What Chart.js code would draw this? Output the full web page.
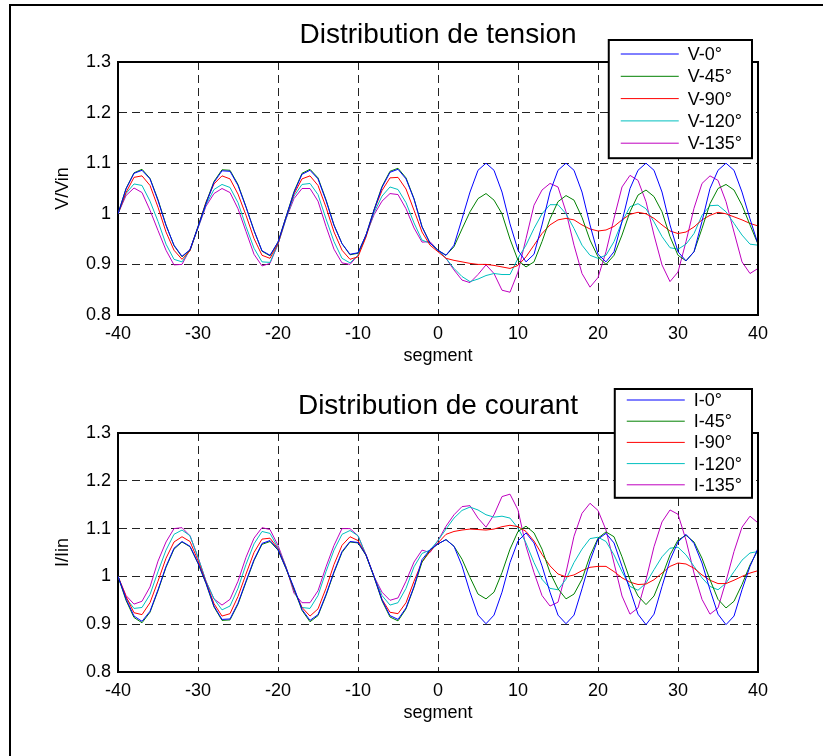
<!DOCTYPE html>
<html>
<head>
<meta charset="utf-8">
<title>Distribution de tension / courant</title>
<script src="https://cdn.jsdelivr.net/npm/chart.js@4.4.1/dist/chart.umd.min.js"></script>
<style>
  body { margin: 0; background: #fff; }
  #page { position: relative; width: 823px; height: 756px; overflow: hidden; }
  #frame { position: absolute; left: 9px; top: 4px; width: 840px; height: 800px;
           border-left: 2px solid #000; border-top: 2px solid #000; }
  canvas { position: absolute; left: 0; }
</style>
</head>
<body>
<div id="page">
  <div id="frame"></div>
  <canvas id="tension" width="823" height="380" style="top:0"></canvas>
  <canvas id="courant" width="823" height="376" style="top:380px"></canvas>
</div>
<script>
// segment index along the line
const SEGMENTS = [
  -40, -39, -38, -37, -36, -35, -34, -33, -32, -31,
  -30, -29, -28, -27, -26, -25, -24, -23, -22, -21,
  -20, -19, -18, -17, -16, -15, -14, -13, -12, -11,
  -10, -9, -8, -7, -6, -5, -4, -3, -2, -1,
  0, 1, 2, 3, 4, 5, 6, 7, 8, 9,
  10, 11, 12, 13, 14, 15, 16, 17, 18, 19,
  20, 21, 22, 23, 24, 25, 26, 27, 28, 29,
  30, 31, 32, 33, 34, 35, 36, 37, 38, 39, 40
];

// V/Vin
const V_0 = [
  1.000, 1.049, 1.080, 1.086, 1.069, 1.026, 0.977, 0.938, 0.916, 0.929,
  0.974, 1.020, 1.062, 1.085, 1.084, 1.056, 1.013, 0.967, 0.927, 0.918,
  0.944, 0.993, 1.042, 1.078, 1.086, 1.069, 1.026, 0.977, 0.941, 0.920,
  0.923, 0.958, 1.007, 1.052, 1.082, 1.088, 1.069, 1.029, 0.974, 0.942,
  0.928, 0.918, 0.938, 0.990, 1.043, 1.086, 1.100, 1.086, 1.043, 0.980,
  0.928, 0.905, 0.920, 0.978, 1.043, 1.086, 1.100, 1.086, 1.043, 0.978,
  0.920, 0.905, 0.925, 0.985, 1.050, 1.086, 1.100, 1.086, 1.043, 0.978,
  0.925, 0.907, 0.925, 0.985, 1.050, 1.086, 1.100, 1.086, 1.043, 0.990, 0.940
];
const V_45 = [
  1.000, 1.050, 1.081, 1.088, 1.070, 1.028, 0.978, 0.937, 0.915, 0.928,
  0.975, 1.022, 1.064, 1.087, 1.086, 1.058, 1.014, 0.967, 0.926, 0.917,
  0.944, 0.994, 1.044, 1.080, 1.088, 1.071, 1.028, 0.978, 0.941, 0.919,
  0.922, 0.958, 1.008, 1.054, 1.084, 1.090, 1.071, 1.030, 0.975, 0.942,
  0.928, 0.918, 0.935, 0.970, 1.004, 1.030, 1.040, 1.027, 1.000, 0.950,
  0.908, 0.895, 0.905, 0.945, 0.990, 1.024, 1.036, 1.027, 0.993, 0.948,
  0.915, 0.900, 0.918, 0.958, 1.004, 1.037, 1.047, 1.034, 1.004, 0.955,
  0.918, 0.907, 0.925, 0.971, 1.020, 1.050, 1.058, 1.047, 1.017, 0.978, 0.940
];
const V_90 = [
  1.000, 1.042, 1.072, 1.075, 1.056, 1.013, 0.964, 0.928, 0.910, 0.927,
  0.974, 1.023, 1.059, 1.075, 1.069, 1.039, 0.997, 0.951, 0.918, 0.912,
  0.941, 0.993, 1.039, 1.069, 1.075, 1.056, 1.013, 0.964, 0.928, 0.910,
  0.915, 0.954, 1.007, 1.046, 1.071, 1.072, 1.049, 1.007, 0.964, 0.938,
  0.925, 0.912, 0.908, 0.905, 0.902, 0.900, 0.900, 0.898, 0.895, 0.892,
  0.898, 0.915, 0.938, 0.961, 0.978, 0.988, 0.991, 0.988, 0.978, 0.970,
  0.966, 0.968, 0.975, 0.988, 0.999, 1.003, 1.000, 0.991, 0.978, 0.966,
  0.961, 0.964, 0.974, 0.988, 0.997, 1.003, 1.000, 0.994, 0.988, 0.981, 0.976
];
const V_120 = [
  1.000, 1.040, 1.059, 1.056, 1.025, 0.985, 0.940, 0.910, 0.905, 0.928,
  0.972, 1.018, 1.048, 1.058, 1.052, 1.022, 0.975, 0.932, 0.905, 0.904,
  0.940, 0.990, 1.035, 1.058, 1.060, 1.038, 0.990, 0.945, 0.912, 0.903,
  0.918, 0.956, 1.002, 1.035, 1.053, 1.048, 1.022, 0.982, 0.948, 0.942,
  0.928, 0.912, 0.892, 0.876, 0.866, 0.871, 0.878, 0.882, 0.880, 0.880,
  0.912, 0.938, 0.971, 1.000, 1.018, 1.018, 1.000, 0.971, 0.938, 0.918,
  0.912, 0.918, 0.945, 0.984, 1.014, 1.020, 1.010, 0.984, 0.955, 0.933,
  0.930, 0.940, 0.961, 0.997, 1.016, 1.017, 1.004, 0.981, 0.958, 0.940, 0.938
];
const V_135 = [
  1.000, 1.036, 1.051, 1.042, 1.007, 0.967, 0.928, 0.899, 0.900, 0.930,
  0.972, 1.015, 1.040, 1.050, 1.042, 1.010, 0.965, 0.920, 0.897, 0.902,
  0.940, 0.990, 1.030, 1.050, 1.050, 1.025, 0.975, 0.930, 0.903, 0.900,
  0.918, 0.958, 0.998, 1.025, 1.040, 1.038, 1.010, 0.972, 0.944, 0.945,
  0.928, 0.912, 0.889, 0.869, 0.864, 0.880, 0.899, 0.882, 0.849, 0.845,
  0.885, 0.951, 1.017, 1.047, 1.060, 1.053, 1.004, 0.938, 0.882, 0.855,
  0.874, 0.925, 0.991, 1.053, 1.076, 1.066, 1.024, 0.958, 0.899, 0.866,
  0.885, 0.945, 1.011, 1.060, 1.075, 1.066, 1.024, 0.964, 0.905, 0.882, 0.892
];

// I/Iin
const I_0 = [
  1.000, 0.953, 0.917, 0.906, 0.927, 0.972, 1.021, 1.059, 1.073, 1.063,
  1.028, 0.986, 0.938, 0.910, 0.911, 0.944, 0.990, 1.035, 1.069, 1.075,
  1.056, 1.017, 0.976, 0.931, 0.908, 0.920, 0.962, 1.010, 1.052, 1.073,
  1.071, 1.045, 1.000, 0.951, 0.918, 0.910, 0.934, 0.979, 1.035, 1.056,
  1.068, 1.077, 1.063, 1.022, 0.967, 0.919, 0.901, 0.919, 0.967, 1.029,
  1.074, 1.091, 1.070, 1.022, 0.967, 0.919, 0.901, 0.919, 0.974, 1.032,
  1.078, 1.090, 1.070, 1.021, 0.972, 0.921, 0.899, 0.921, 0.979, 1.034,
  1.072, 1.088, 1.069, 1.028, 0.972, 0.921, 0.899, 0.917, 0.972, 1.021, 1.059
];
const I_45 = [
  1.000, 0.950, 0.914, 0.903, 0.925, 0.970, 1.019, 1.057, 1.072, 1.062,
  1.027, 0.985, 0.936, 0.908, 0.909, 0.942, 0.988, 1.033, 1.067, 1.073,
  1.055, 1.016, 0.974, 0.929, 0.905, 0.918, 0.960, 1.008, 1.050, 1.072,
  1.070, 1.044, 0.999, 0.949, 0.915, 0.907, 0.932, 0.977, 1.030, 1.055,
  1.068, 1.077, 1.063, 1.036, 0.998, 0.963, 0.953, 0.967, 1.008, 1.057,
  1.094, 1.105, 1.091, 1.057, 1.008, 0.974, 0.953, 0.963, 0.994, 1.043,
  1.080, 1.093, 1.083, 1.041, 0.993, 0.959, 0.941, 0.959, 1.000, 1.045,
  1.076, 1.086, 1.072, 1.038, 0.993, 0.952, 0.934, 0.948, 0.983, 1.024, 1.055
];
const I_90 = [
  1.000, 0.958, 0.924, 0.920, 0.945, 0.990, 1.038, 1.072, 1.083, 1.073,
  1.033, 0.988, 0.943, 0.917, 0.922, 0.958, 1.005, 1.050, 1.078, 1.080,
  1.058, 1.018, 0.972, 0.935, 0.917, 0.932, 0.975, 1.025, 1.065, 1.083,
  1.075, 1.045, 1.000, 0.952, 0.925, 0.922, 0.945, 0.990, 1.030, 1.052,
  1.070, 1.088, 1.094, 1.097, 1.099, 1.098, 1.097, 1.099, 1.104, 1.107,
  1.104, 1.094, 1.074, 1.046, 1.022, 1.005, 0.999, 1.003, 1.012, 1.019,
  1.021, 1.021, 1.010, 0.997, 0.988, 0.983, 0.984, 0.993, 1.007, 1.021,
  1.028, 1.026, 1.017, 1.003, 0.992, 0.985, 0.985, 0.992, 1.000, 1.007, 1.012
];
const I_120 = [
  1.000, 0.955, 0.933, 0.935, 0.962, 1.010, 1.055, 1.088, 1.097, 1.085,
  1.040, 0.990, 0.953, 0.930, 0.938, 0.975, 1.025, 1.068, 1.094, 1.090,
  1.060, 1.020, 0.970, 0.935, 0.933, 0.960, 1.010, 1.055, 1.088, 1.096,
  1.085, 1.045, 1.000, 0.960, 0.940, 0.945, 0.975, 1.020, 1.048, 1.055,
  1.075, 1.099, 1.122, 1.138, 1.145, 1.139, 1.129, 1.124, 1.126, 1.122,
  1.101, 1.070, 1.029, 0.994, 0.975, 0.972, 0.994, 1.029, 1.057, 1.079,
  1.082, 1.073, 1.045, 1.010, 0.979, 0.971, 0.986, 1.014, 1.041, 1.059,
  1.061, 1.045, 1.021, 0.997, 0.979, 0.972, 0.986, 1.010, 1.034, 1.049, 1.052
];
const I_135 = [
  1.000, 0.960, 0.942, 0.948, 0.978, 1.032, 1.072, 1.100, 1.102, 1.085,
  1.040, 0.990, 0.953, 0.940, 0.952, 0.990, 1.040, 1.080, 1.102, 1.098,
  1.065, 1.020, 0.965, 0.945, 0.945, 0.970, 1.020, 1.065, 1.100, 1.100,
  1.085, 1.045, 1.000, 0.967, 0.950, 0.955, 0.990, 1.030, 1.055, 1.050,
  1.075, 1.105, 1.129, 1.146, 1.148, 1.122, 1.103, 1.129, 1.167, 1.172,
  1.139, 1.063, 1.008, 0.960, 0.938, 0.946, 1.008, 1.084, 1.132, 1.153,
  1.138, 1.097, 1.028, 0.959, 0.921, 0.934, 0.993, 1.062, 1.114, 1.139,
  1.130, 1.076, 1.007, 0.952, 0.921, 0.934, 0.990, 1.052, 1.103, 1.126, 1.112
];

const V_LABELS = ['V-0°', 'V-45°', 'V-90°', 'V-120°', 'V-135°'];
const I_LABELS = ['I-0°', 'I-45°', 'I-90°', 'I-120°', 'I-135°'];
const COLORS = ['#0000ff', '#008000', '#ff0000', '#00bfbf', '#bf00bf'];

const FONT = '"Liberation Sans", Arial, Helvetica, sans-serif';

// toPoints pairs each value with its segment
const toPoints = arr => arr.map((v, i) => ({ x: SEGMENTS[i], y: v }));

// Titles, axis labels, box and legend drawn the way MATLAB lays them out
const matlabDecor = {
  id: 'matlabDecor',
  afterDraw(chart, args, opts) {
    const { ctx, chartArea: a } = chart;
    const cx = (a.left + a.right) / 2;
    ctx.save();

    // closing the axes box (top and right)
    ctx.strokeStyle = '#000';
    ctx.lineWidth = 2;
    ctx.setLineDash([]);
    ctx.beginPath();
    ctx.moveTo(a.left, a.top);
    ctx.lineTo(a.right, a.top);
    ctx.lineTo(a.right, a.bottom);
    ctx.stroke();

    ctx.fillStyle = '#000';
    ctx.textAlign = 'center';
    ctx.textBaseline = 'middle';
    ctx.font = '28px ' + FONT;
    ctx.fillText(opts.title, cx, a.top - 27);

    ctx.font = '18px ' + FONT;
    ctx.fillText(opts.xLabel, cx, a.bottom + 41);

    ctx.save();
    ctx.translate(63, (a.top + a.bottom) / 2);
    ctx.rotate(-Math.PI / 2);
    ctx.fillText(opts.yLabel, 0, 0);
    ctx.restore();

    // legend box
    const sets = chart.data.datasets;
    ctx.font = '18px ' + FONT;
    const textW = Math.max(...sets.map(d => ctx.measureText(d.label).width));
    const lineLen = 58;
    const boxW = 12 + lineLen + 9 + textW + 10;
    const boxH = opts.legendPadTop + opts.legendRow * (sets.length - 1) + opts.legendPadBottom;
    const bx = a.right - 6 - boxW;
    const by = opts.legendTop;
    ctx.fillStyle = '#fff';
    ctx.fillRect(bx, by, boxW, boxH);
    ctx.strokeStyle = '#000';
    ctx.lineWidth = 2;
    ctx.strokeRect(bx, by, boxW, boxH);

    ctx.textAlign = 'left';
    sets.forEach((d, i) => {
      const y = by + opts.legendPadTop + i * opts.legendRow;
      ctx.strokeStyle = d.borderColor;
      ctx.lineWidth = 1;
      ctx.beginPath();
      ctx.moveTo(bx + 12, y);
      ctx.lineTo(bx + 12 + lineLen, y);
      ctx.stroke();
      ctx.fillStyle = '#000';
      ctx.fillText(d.label, bx + 12 + lineLen + 9, y + 1);
    });

    ctx.restore();
  }
};

function makeChart(id, series, labels, decor, padTop, axisHeight) {
  const ctx = document.getElementById(id).getContext('2d');
  return new Chart(ctx, {
    type: 'line',
    data: {
      datasets: series.map((arr, i) => ({
        label: labels[i],
        data: toPoints(arr),
        borderColor: COLORS[i],
        backgroundColor: COLORS[i],
        borderWidth: 1,
        pointRadius: 0,
        tension: 0,
        fill: false
      }))
    },
    options: {
      responsive: false,
      animation: false,
      devicePixelRatio: 1,
      layout: { padding: { top: padTop, right: 65, left: 0, bottom: 0 } },
      plugins: {
        legend: { display: false },
        title: { display: false },
        tooltip: { enabled: false },
        matlabDecor: decor
      },
      scales: {
        x: {
          type: 'linear',
          min: -40,
          max: 40,
          ticks: {
            stepSize: 10,
            color: '#000',
            font: { family: FONT, size: 18 },
            padding: 8,
            maxRotation: 0,
            autoSkip: false
          },
          grid: { color: '#222', lineWidth: 1, drawTicks: false },
          border: { display: true, color: '#000', width: 2, dash: [8, 5] },
          afterFit: scale => { scale.height = axisHeight; }
        },
        y: {
          min: 0.8,
          max: 1.3,
          ticks: {
            stepSize: 0.1,
            color: '#000',
            font: { family: FONT, size: 18 },
            padding: 7,
            callback: v => String(Math.round(v * 10) / 10)
          },
          grid: { color: '#222', lineWidth: 1, drawTicks: false },
          border: { display: true, color: '#000', width: 2, dash: [8, 5] },
          afterFit: scale => { scale.width = 118; }
        }
      }
    },
    plugins: [matlabDecor]
  });
}

makeChart('tension', [V_0, V_45, V_90, V_120, V_135], V_LABELS, {
  title: 'Distribution de tension',
  xLabel: 'segment',
  yLabel: 'V/Vin',
  legendTop: 40,
  legendPadTop: 14,
  legendRow: 22.3,
  legendPadBottom: 15
}, 62, 65);

makeChart('courant', [I_0, I_45, I_90, I_120, I_135], I_LABELS, {
  title: 'Distribution de courant',
  xLabel: 'segment',
  yLabel: 'I/Iin',
  legendTop: 9,
  legendPadTop: 11,
  legendRow: 21.2,
  legendPadBottom: 13
}, 53, 84);
</script>
</body>
</html>
